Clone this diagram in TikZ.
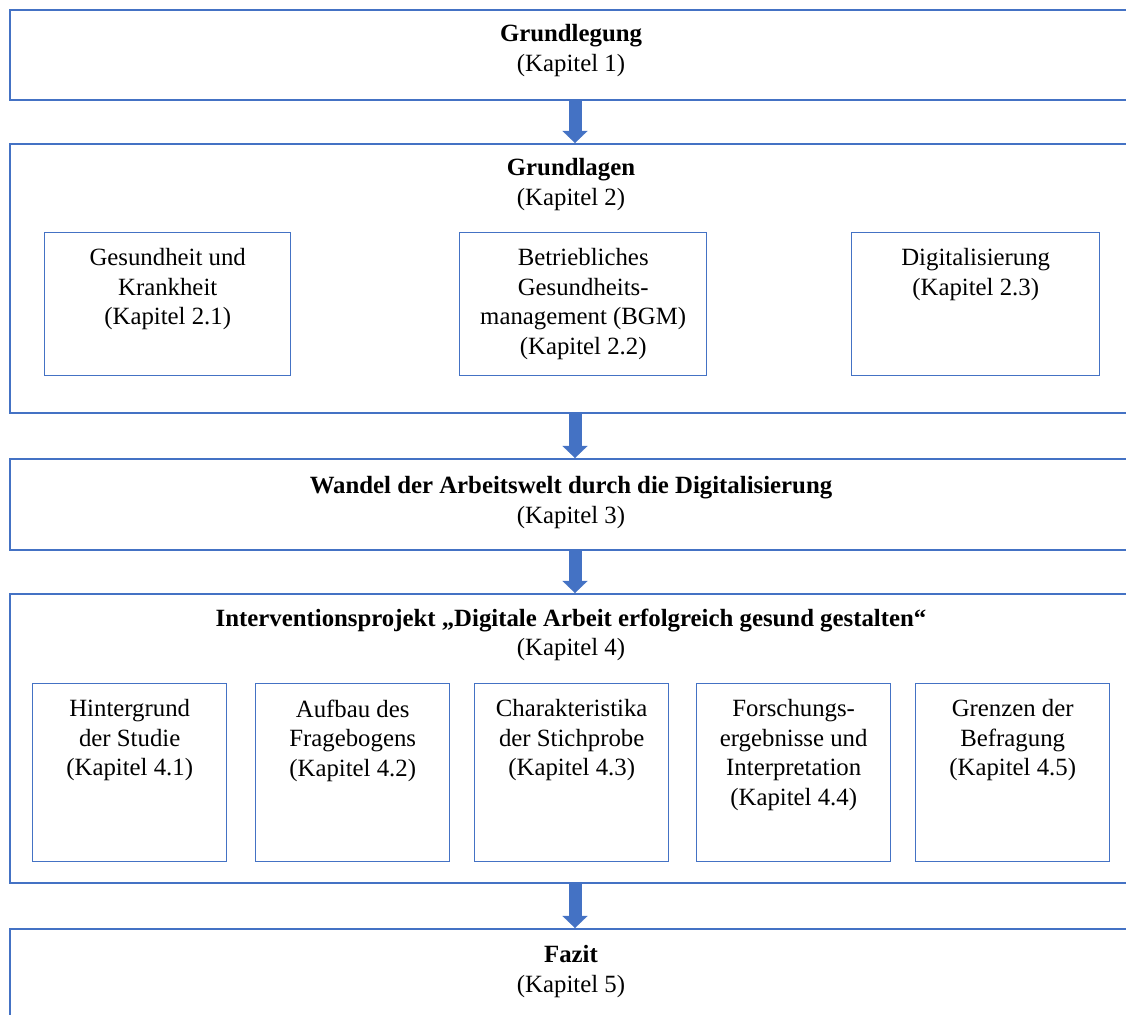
\documentclass[tikz,border=0pt]{standalone}
\usepackage{fontspec}
\setmainfont{Liberation Serif}
\usetikzlibrary{positioning,arrows.meta}

\definecolor{kapblue}{RGB}{68,114,196}

\tikzset{every picture/.style={line width=0.75pt}}
\tikzset{
  chapbox/.style={draw=kapblue, line width=1pt, rectangle, anchor=north west, minimum width=561pt, inner sep=0pt},
  subbox/.style={draw=kapblue, line width=0.7pt, rectangle, anchor=north west, inner sep=0pt},
  boxtext/.style={anchor=north, inner sep=0pt, align=center, font=\fontsize{12.4pt}{14.7pt}\selectfont},
  flowarrow/.style={draw=kapblue, line width=6.5pt, -{Triangle[width=12.5pt,length=6pt,line width=0.1pt]}}
}

\begin{document}
\begin{tikzpicture}[x=0.5pt,y=0.5pt,yscale=-1]
\useasboundingbox (0,0) rectangle (1126,1015);
\clip (0,0) rectangle (1126,1015);

%Chapter boxes
\node [chapbox, minimum height=45pt] (grundlegung) at (9,9) {};
\node [chapbox, minimum height=134.5pt] (grundlagen) at (9,143) {};
\node [chapbox, minimum height=45.5pt] (wandel) at (9,458) {};
\node [chapbox, minimum height=144.5pt] (projekt) at (9,593) {};
\node [chapbox, minimum height=55pt] (fazit) at (9,928) {};

%Arrows between chapters
\coordinate (axis) at (575,0);
\draw [flowarrow] (grundlegung.south -| axis) -- (grundlagen.north -| axis);
\draw [flowarrow] (grundlagen.south -| axis) -- (wandel.north -| axis);
\draw [flowarrow] (wandel.south -| axis) -- (projekt.north -| axis);
\draw [flowarrow] (projekt.south -| axis) -- (fazit.north -| axis);

% Text Node
\node [boxtext, below=7.5pt of grundlegung.north] (grundlegungtxt) {\textbf{Grundlegung}\\(Kapitel 1)};
% Text Node
\node [boxtext, below=7.5pt of grundlagen.north] (grundlagentxt) {\textbf{Grundlagen}\\(Kapitel 2)};
% Text Node
\node [boxtext, below=9pt of wandel.north] (wandeltxt) {\textbf{Wandel der Arbeitswelt durch die Digitalisierung}\\(Kapitel 3)};
% Text Node
\node [boxtext, below=7.5pt of projekt.north] (projekttxt) {\textbf{Interventionsprojekt „Digitale Arbeit erfolgreich gesund gestalten“}\\(Kapitel 4)};
% Text Node
\node [boxtext, below=8.5pt of fazit.north] (fazittxt) {\textbf{Fazit}\\(Kapitel 5)};

%Sub boxes of chapter 2
\node [subbox, minimum width=123pt, minimum height=71.5pt] (gesundheit) at (44,232) {};
\node [subbox, minimum width=123.5pt, minimum height=71.5pt] (bgm) at (459,232) {};
\node [subbox, minimum width=124pt, minimum height=71.5pt] (digital) at (851,232) {};

\node [boxtext, below=8pt of gesundheit.north] (gesundheittxt) {Gesundheit und\\Krankheit\\(Kapitel 2.1)};
\node [boxtext, below=8pt of bgm.north] (bgmtxt) {Betriebliches\\Gesundheits-\\management (BGM)\\(Kapitel 2.2)};
\node [boxtext, below=8pt of digital.north] (digitaltxt) {Digitalisierung\\(Kapitel 2.3)};

%Sub boxes of chapter 4
\node [subbox, minimum width=97pt, minimum height=89pt] (hintergrund) at (32,683) {};
\node [subbox, minimum width=97pt, minimum height=89pt] (aufbau) at (255,683) {};
\node [subbox, minimum width=97pt, minimum height=89pt] (stichprobe) at (474,683) {};
\node [subbox, minimum width=97pt, minimum height=89pt] (ergebnisse) at (696,683) {};
\node [subbox, minimum width=97pt, minimum height=89pt] (grenzen) at (915,683) {};

\node [boxtext, below=8pt of hintergrund.north] (hintergrundtxt) {Hintergrund\\der Studie\\(Kapitel 4.1)};
\node [boxtext, below=8pt of aufbau.north] (aufbautxt) {Aufbau des\\Fragebogens\\(Kapitel 4.2)};
\node [boxtext, below=8pt of stichprobe.north] (stichprobetxt) {Charakteristika\\der Stichprobe\\(Kapitel 4.3)};
\node [boxtext, below=8pt of ergebnisse.north] (ergebnissetxt) {Forschungs-\\ergebnisse und\\Interpretation\\(Kapitel 4.4)};
\node [boxtext, below=8pt of grenzen.north] (grenzentxt) {Grenzen der\\Befragung\\(Kapitel 4.5)};

\end{tikzpicture}
\end{document}
